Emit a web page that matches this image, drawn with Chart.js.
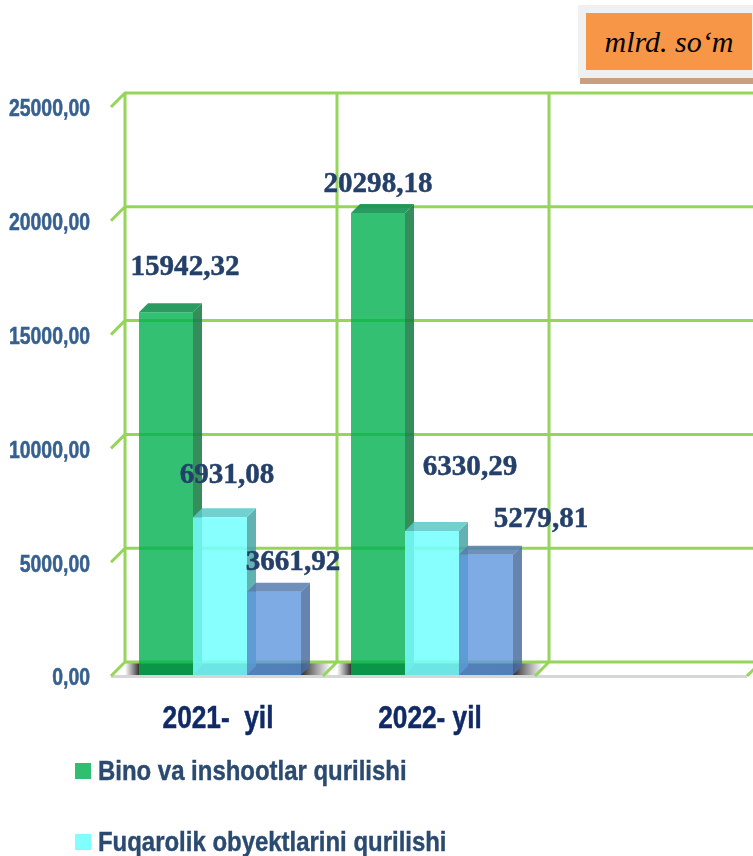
<!DOCTYPE html>
<html>
<head>
<meta charset="utf-8">
<script src="https://cdn.jsdelivr.net/npm/chart.js@4"></script>
<style>
    html, body { margin: 0; padding: 0; background: #fff; overflow: hidden; }
    #wrap { position: relative; width: 753px; height: 856px; overflow: hidden; }
    canvas { position: absolute; left: 0; top: 0; }
    .unit-shadow { position: absolute; left: 580px; top: 78px; width: 173px; height: 6px; background: #c9a07f; }
    .unit-box { position: absolute; left: 578px; top: 5px; width: 175px; height: 73px; background: #f0f0f0; }
    .unit-label {
        position: absolute; left: 586px; top: 13px; width: 166px; height: 57px;
        background: #f79646; text-align: center; color: #000;
        font: italic 30px "Liberation Serif", serif; line-height: 57px;
    }
    .legend-row { position: absolute; left: 75px; height: 32px; display: flex; align-items: center;
        font: bold 28px "Liberation Sans", Arial, sans-serif; color: #2a4a70; white-space: nowrap; }
    .legend-row i { display: block; width: 16px; height: 16px; margin-right: 7px; }
    .legend-row span { display: inline-block; transform-origin: left center; transform: scaleX(0.855);
        -webkit-text-stroke: 0.4px #2a4a70; }
</style>
</head>
<body>
<div id="wrap">
    <canvas id="chart" width="753" height="856"></canvas>
    <div class="unit-shadow"></div>
    <div class="unit-box"></div>
    <div class="unit-label">mlrd. so‘m</div>
    <div id="legend"></div>
</div>
<script>
// Data
const years = ['2021-  yil', '2022- yil', ''];
const binoValues = [15942.32, 20298.18, null];
const fuqarolikValues = [6931.08, 6330.29, null];
const uchinchiValues = [3661.92, 5279.81, null];
const legendNames = ['Bino va inshootlar qurilishi', 'Fuqarolik obyektlarini qurilishi'];

// Bar colours: front, top, side
const frontColors = ['rgba(0,176,80,0.8)', 'rgba(120,255,255,0.88)', 'rgba(95,150,222,0.8)'];
const topColors = ['rgba(20,145,80,0.9)', 'rgba(90,200,200,0.85)', 'rgba(85,125,175,0.85)'];
const sideColors = ['rgba(25,125,70,0.88)', 'rgba(70,165,165,0.85)', 'rgba(75,110,160,0.85)'];
const legendColors = ['#2fbf71', '#7fffff'];

// Label offset from the bar's top centre, one pair per dataset and year
const labelShift = [
    [[19, -45], [0, -29]],
    [[7, -42], [38, -64]],
    [[19, -29], [55, -36]]
];

const GRID = '#95d65a';
const BAR_DEPTH = 9;

const fmt = v => v.toFixed(2).replace('.', ',');

// The original text is a stretched image, so the axis text gets narrowed
function drawText(ctx, text, x, y, font, color, sx, align) {
    ctx.save();
    ctx.font = font;
    ctx.fillStyle = color;
    ctx.strokeStyle = color;
    ctx.lineWidth = 0.5;
    ctx.textAlign = align;
    ctx.textBaseline = 'middle';
    ctx.translate(x, y);
    ctx.scale(sx, 1);
    ctx.fillText(text, 0, 0);
    ctx.strokeText(text, 0, 0);
    ctx.restore();
}

// Back wall, floor and the 3D faces of the bars
const wallPlugin = {
    id: 'wall',
    beforeDatasetsDraw(chart) {
        const { ctx } = chart;
        const xs = chart.scales.x, ys = chart.scales.y;
        const step = xs.getPixelForValue(1) - xs.getPixelForValue(0);
        const wallLeft = xs.left + 11, backRise = 13, floorDrop = 14;
        const floorBack = ys.getPixelForValue(0) - backRise;
        const floorFront = floorBack + floorDrop;

        ctx.save();

        // floor edge
        ctx.strokeStyle = '#d6d6d6';
        ctx.lineWidth = 3;
        ctx.beginPath();
        ctx.moveTo(wallLeft - floorDrop, floorFront + 0.5);
        ctx.lineTo(wallLeft - floorDrop + step * 3, floorFront + 0.5);
        ctx.stroke();

        // shadow on the floor under each bar group
        [0, 1].forEach(i => {
            const first = chart.getDatasetMeta(0).data[i];
            const last = chart.getDatasetMeta(2).data[i];
            const l = first.x - first.width / 2, r = last.x + last.width / 2;
            const from = l - 14, to = r + 30;
            const g = ctx.createLinearGradient(from, 0, to, 0);
            const w = to - from;
            g.addColorStop(0, 'rgba(60,60,60,0)');
            g.addColorStop(14 / w, 'rgba(40,40,40,0.95)');
            g.addColorStop((to - 30 - from) / w, 'rgba(30,30,30,0.95)');
            g.addColorStop(1, 'rgba(60,60,60,0)');
            ctx.fillStyle = g;
            ctx.fillRect(from, floorBack, w, floorDrop - 1);
        });

        // wall grid
        ctx.strokeStyle = GRID;
        ctx.lineWidth = 3;
        ctx.beginPath();
        ys.ticks.forEach(t => {
            const y = ys.getPixelForValue(t.value) - backRise;
            ctx.moveTo(wallLeft - floorDrop, y + floorDrop);
            ctx.lineTo(wallLeft, y);
            ctx.lineTo(chart.width, y);
        });
        const wallTop = ys.getPixelForValue(ys.max) - backRise;
        for (let i = 0; i < 3; i++) {
            const x = wallLeft + step * i;
            ctx.moveTo(x, wallTop);
            ctx.lineTo(x, floorBack);
            ctx.moveTo(x, floorBack);
            ctx.lineTo(x - floorDrop, floorFront);
        }
        ctx.moveTo(wallLeft + step * 3, floorBack);
        ctx.lineTo(wallLeft + step * 3 - floorDrop, floorFront);
        ctx.stroke();

        // top and side faces, left to right
        chart.data.datasets.forEach((ds, d) => {
            chart.getDatasetMeta(d).data.forEach((bar, i) => {
                if (ds.data[i] == null) return;
                const l = bar.x - bar.width / 2, r = bar.x + bar.width / 2;
                const t = bar.y, b = bar.base;
                ctx.fillStyle = sideColors[d];
                ctx.beginPath();
                ctx.moveTo(r, t);
                ctx.lineTo(r + BAR_DEPTH, t - BAR_DEPTH);
                ctx.lineTo(r + BAR_DEPTH, b - BAR_DEPTH);
                ctx.lineTo(r, b);
                ctx.closePath();
                ctx.fill();
                ctx.fillStyle = topColors[d];
                ctx.beginPath();
                ctx.moveTo(l, t);
                ctx.lineTo(l + BAR_DEPTH, t - BAR_DEPTH);
                ctx.lineTo(r + BAR_DEPTH, t - BAR_DEPTH);
                ctx.lineTo(r, t);
                ctx.closePath();
                ctx.fill();
            });
        });
        ctx.restore();
    },
    afterDatasetsDraw(chart) {
        const { ctx } = chart;
        const xs = chart.scales.x, ys = chart.scales.y;

        // value labels
        chart.data.datasets.forEach((ds, d) => {
            chart.getDatasetMeta(d).data.forEach((bar, i) => {
                if (ds.data[i] == null) return;
                const s = labelShift[d][i];
                drawText(ctx, fmt(ds.data[i]), bar.x + s[0], bar.y + s[1],
                    'bold 30px "Liberation Serif", serif', '#24406a', 0.97, 'center');
            });
        });

        // axis text
        ys.ticks.forEach(t => {
            drawText(ctx, fmt(t.value), 90, ys.getPixelForValue(t.value) + 4,
                'bold 23px "Liberation Sans", sans-serif', '#36608f', 0.845, 'right');
        });
        years.forEach((name, i) => {
            drawText(ctx, name, xs.getPixelForValue(i) - 2, 719,
                'bold 32px "Liberation Sans", sans-serif', '#0f2a66', 0.82, 'center');
        });
    }
};

const barData = [binoValues, fuqarolikValues, uchinchiValues];

const chart = new Chart(document.getElementById('chart'), {
    type: 'bar',
    data: {
        labels: years,
        datasets: barData.map((vals, d) => ({
            label: legendNames[d] || '',
            data: vals,
            backgroundColor: frontColors[d],
            borderWidth: 0,
            barPercentage: 1,
            categoryPercentage: 0.764
        }))
    },
    options: {
        responsive: false,
        animation: false,
        layout: { padding: { top: 106, right: 3, left: 0, bottom: 0 } },
        plugins: { legend: { display: false }, tooltip: { enabled: false } },
        scales: {
            x: {
                grid: { display: false },
                border: { display: false },
                afterFit: s => { s.height = 181; },
                ticks: { display: false }
            },
            y: {
                min: 0,
                max: 25000,
                grid: { display: false, drawTicks: false },
                border: { display: false },
                afterFit: s => { s.width = 114; },
                ticks: { display: false, stepSize: 5000 }
            }
        }
    },
    plugins: [wallPlugin]
});

// Legend as real text; the picture cuts off below the second row
const legendTops = [755, 826];
legendNames.forEach((name, i) => {
    const row = document.createElement('div');
    row.className = 'legend-row';
    row.style.top = legendTops[i] + 'px';
    row.innerHTML = '<i style="background:' + legendColors[i] + '"></i><span>' + name + '</span>';
    document.getElementById('legend').appendChild(row);
});
</script>
</body>
</html>
